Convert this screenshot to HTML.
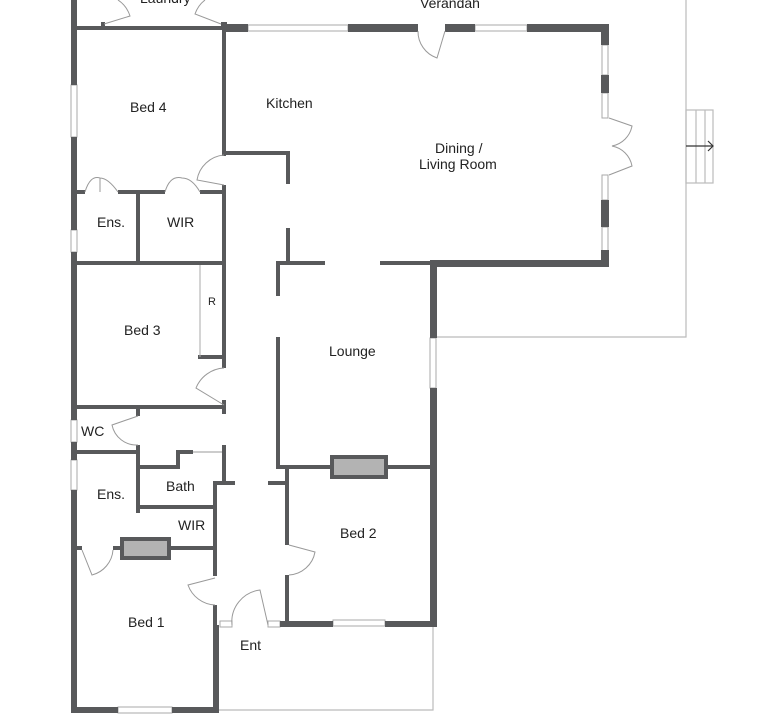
<!DOCTYPE html>
<html><head><meta charset="utf-8"><style>
html,body{margin:0;padding:0;background:#fff;}
svg{display:block;}
text{font-family:"Liberation Sans",Arial,sans-serif;font-size:14px;fill:#222;}
</style></head><body>
<svg width="771" height="720" viewBox="0 0 771 720" xmlns="http://www.w3.org/2000/svg">
<g stroke="#bbb" stroke-width="1.2" fill="none">
<polyline points="686,0 686,337 437,337"/>
<polyline points="433,625 433,710 218,710"/>
<rect x="686" y="110" width="27" height="73"/>
<line x1="696" y1="110" x2="696" y2="183"/><line x1="705" y1="110" x2="705" y2="183"/>
<line x1="686" y1="146" x2="713" y2="146" stroke="#333"/>
<polyline points="708,141 713,146 708,151" stroke="#333"/>
</g>
<g stroke="#aaa" stroke-width="1" fill="#fff">
<rect x="248" y="25" width="100" height="6"/><rect x="475" y="25" width="52" height="6"/>
<rect x="602" y="45" width="6" height="30"/><rect x="602" y="93" width="6" height="25"/>
<rect x="602" y="175" width="6" height="25"/><rect x="602" y="227" width="6" height="25"/>
<rect x="430" y="338" width="6" height="50"/>
<rect x="333" y="620" width="52" height="6"/>
<rect x="118" y="707" width="54" height="6"/>
<rect x="71" y="85" width="6" height="52"/><rect x="71" y="230" width="6" height="22"/>
<rect x="71" y="420" width="6" height="22"/><rect x="71" y="460" width="6" height="30"/>
<rect x="220" y="621" width="12" height="6"/><rect x="268" y="621" width="12" height="6"/>
</g>
<g fill="#58595b">
<rect x="71" y="0" width="6" height="85"/><rect x="71" y="137" width="6" height="93"/>
<rect x="71" y="252" width="6" height="168"/><rect x="71" y="442" width="6" height="18"/>
<rect x="71" y="490" width="6" height="223"/>
<rect x="71" y="707" width="47" height="6"/><rect x="172" y="707" width="46" height="6"/>
<rect x="213" y="625" width="6" height="88"/>
<rect x="74" y="26" width="152" height="4"/>
<rect x="101" y="22" width="4" height="6"/><rect x="221" y="22" width="6" height="6"/>
<rect x="222" y="24" width="26" height="8"/><rect x="348" y="24" width="70" height="8"/>
<rect x="445" y="24" width="30" height="8"/><rect x="527" y="24" width="82" height="8"/>
<rect x="601" y="24" width="8" height="21"/><rect x="601" y="75" width="8" height="18"/>
<rect x="601" y="200" width="8" height="27"/><rect x="601" y="250" width="8" height="17"/>
<rect x="430" y="260" width="179" height="7"/>
<rect x="430" y="260" width="7" height="78"/><rect x="430" y="388" width="7" height="238"/>
<rect x="280" y="621" width="53" height="6"/><rect x="385" y="621" width="52" height="6"/>
<rect x="222" y="28" width="4" height="128"/>
<rect x="222" y="151" width="68" height="4"/>
<rect x="286" y="151" width="4" height="33"/><rect x="286" y="228" width="4" height="36"/>
<rect x="276" y="261" width="49" height="4"/><rect x="380" y="261" width="52" height="4"/>
<rect x="276" y="261" width="4" height="35"/>
<rect x="276" y="337" width="4" height="132"/>
<rect x="276" y="465" width="55" height="4"/><rect x="388" y="465" width="44" height="4"/>
<rect x="285" y="467" width="4" height="78"/><rect x="285" y="575" width="4" height="50"/>
<rect x="268" y="481" width="20" height="4"/>
<rect x="74" y="190" width="11" height="4"/><rect x="118" y="190" width="47" height="4"/><rect x="200" y="190" width="26" height="4"/>
<rect x="136" y="190" width="4" height="73"/>
<rect x="222" y="185" width="4" height="183"/>
<rect x="74" y="261" width="152" height="4"/>
<rect x="198" y="355" width="26" height="4"/>
<rect x="74" y="405" width="152" height="4"/><rect x="222" y="400" width="4" height="14"/>
<rect x="136" y="407" width="4" height="9"/>
<rect x="74" y="450" width="66" height="4"/>
<rect x="136" y="445" width="4" height="68"/>
<rect x="138" y="465" width="42" height="4"/><rect x="176" y="450" width="4" height="19"/>
<rect x="176" y="450" width="17" height="4"/>
<rect x="222" y="445" width="4" height="38"/>
<rect x="214" y="481" width="21" height="4"/>
<rect x="138" y="505" width="77" height="4"/>
<rect x="213" y="481" width="4" height="95"/>
<rect x="170" y="546" width="45" height="4"/>
<rect x="74" y="546" width="8" height="4"/><rect x="113" y="546" width="8" height="4"/>
<rect x="213" y="605" width="4" height="20"/>
<rect x="120" y="537" width="51" height="23"/>
<rect x="330" y="455" width="58" height="24"/>
</g>
<rect x="124" y="541" width="43" height="15" fill="#b3b3b3"/>
<rect x="334" y="459" width="50" height="16" fill="#b3b3b3"/>
<g stroke="#999" stroke-width="1" fill="none">
<line x1="200" y1="265" x2="200" y2="357" stroke="#aaa"/>
<line x1="193" y1="452" x2="222" y2="452"/>
<path d="M445,31 L437,58 A28,28 0 0 1 418,31"/>
<path d="M224,155 A30,30 0 0 0 197,180 L224,185"/>
<path d="M85,192 Q90,175 100,178 Q108,178 118,192 M100,178 L100,192"/>
<path d="M165,192 Q170,175 182,178 Q192,178 200,192"/>
<path d="M609,118 L632,126 A25,25 0 0 1 612,146 A25,25 0 0 1 632,166 L609,175"/>
<path d="M224,368 A32,32 0 0 0 196,388 L224,405"/>
<path d="M138,416 L112,425 A25,25 0 0 0 138,445"/>
<path d="M82,550 L92,575 A28,28 0 0 0 113,550"/>
<path d="M215,578 L188,585 A30,30 0 0 0 215,605"/>
<path d="M289,545 L315,552 A28,28 0 0 1 289,575"/>
<path d="M232,625 A32,32 0 0 1 260,590 L268,625"/>
<path d="M104,24 L130,16 A30,30 0 0 0 118,0"/>
<path d="M221,24 L195,14 A30,30 0 0 1 205,0"/>
</g>
<text x="130" y="112">Bed 4</text>
<text x="266" y="108">Kitchen</text>
<text x="435" y="153">Dining /</text>
<text x="419" y="169">Living Room</text>
<text x="97" y="227">Ens.</text>
<text x="167" y="227">WIR</text>
<text x="208" y="305" style="font-size:11px">R</text>
<text x="124" y="335">Bed 3</text>
<text x="329" y="356">Lounge</text>
<text x="81" y="436">WC</text>
<text x="166" y="491">Bath</text>
<text x="97" y="499">Ens.</text>
<text x="178" y="530">WIR</text>
<text x="340" y="538">Bed 2</text>
<text x="128" y="627">Bed 1</text>
<text x="240" y="650">Ent</text>
<text x="420" y="8">Verandah</text>
<text x="140" y="3">Laundry</text>
</svg>
</body></html>
